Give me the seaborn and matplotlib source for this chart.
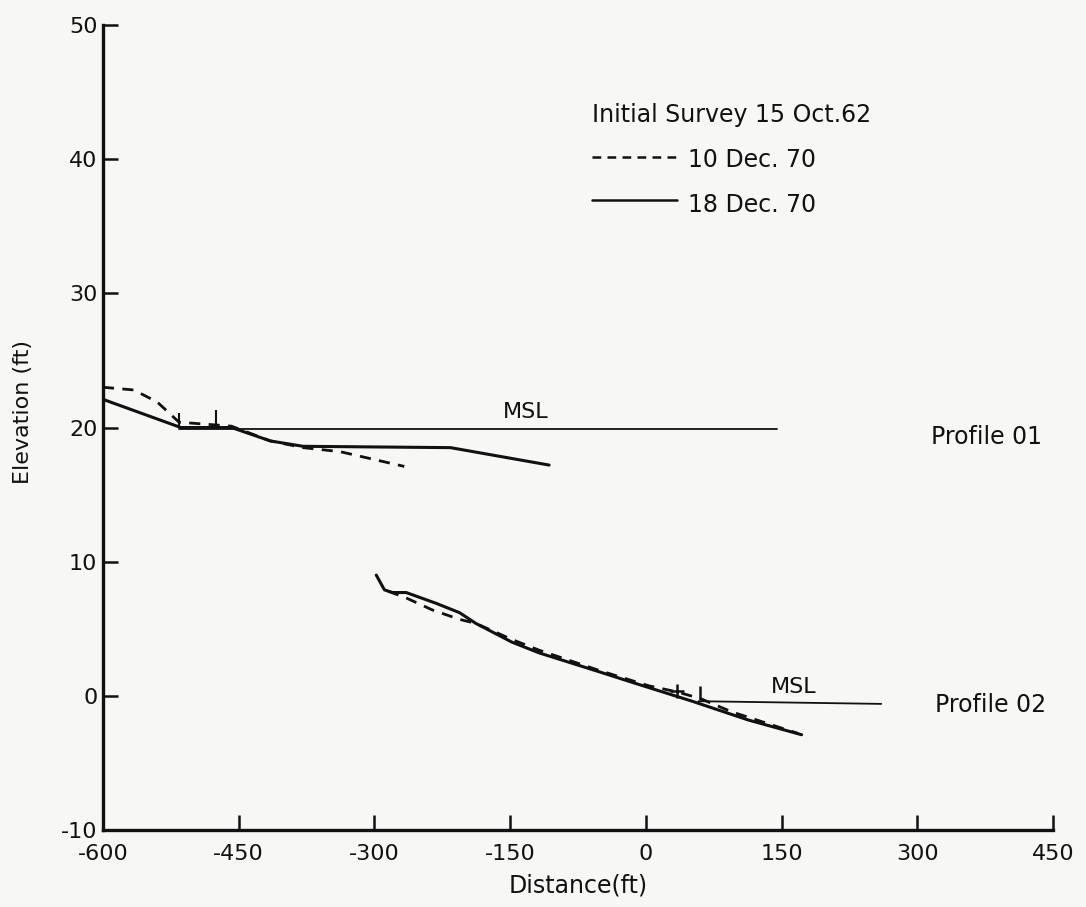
import matplotlib
matplotlib.use("Agg")
import matplotlib.pyplot as plt
import seaborn as sns
import pandas as pd

# ---------------- data ----------------
# Profile 01
p01_dec18_dist = [-600, -514, -458, -415, -379, -216, -107]
p01_dec18_elev = [22.1, 20.0, 20.0, 19.0, 18.6, 18.5, 17.2]
p01_dec10_dist = [-600, -566, -540, -516, -458, -415, -379, -338, -267]
p01_dec10_elev = [23.0, 22.8, 21.9, 20.4, 20.1, 19.0, 18.5, 18.2, 17.1]
p01_msl_dist = [-516, 145]
p01_msl_elev = [19.9, 19.9]
p01_mark_dist = [-516, -475]
p01_mark_low = [20.1, 20.1]
p01_mark_high = [21.1, 21.3]

# Profile 02
p02_dec18_dist = [-298, -289, -280, -265, -232, -206, -188, -148, -118, -52, -15, 51, 113, 172]
p02_dec18_elev = [9.0, 7.9, 7.7, 7.7, 6.9, 6.2, 5.4, 4.0, 3.2, 1.8, 1.0, -0.4, -1.8, -2.9]
p02_dec10_dist = [-285, -265, -236, -206, -188, -148, -118, -52, 3, 34, 60, 95, 168]
p02_dec10_elev = [7.8, 7.3, 6.4, 5.7, 5.4, 4.2, 3.4, 1.9, 0.75, 0.3, -0.2, -1.2, -2.8]
p02_msl_dist = [58, 260]
p02_msl_elev = [-0.4, -0.6]
p02_cross_dist = [34]
p02_cross_elev = [0.35]
p02_mark_dist = [60]
p02_mark_low = [-0.3]
p02_mark_high = [0.7]

x_ticks = [-600, -450, -300, -150, 0, 150, 300, 450]
y_ticks = [-10, 0, 10, 20, 30, 40, 50]

legend_title = "Initial Survey 15 Oct.62"
legend_labels = ["10 Dec. 70", "18 Dec. 70"]

# ---------------- plot ----------------
sns.set_style("ticks")
plt.rcParams["font.family"] = ["DejaVu Sans"]
plt.rcParams["axes.unicode_minus"] = False

bg = "#f7f7f6"
fig = plt.figure(figsize=(10.86, 9.07), dpi=100, facecolor=bg)
ax = fig.add_axes([0.0948, 0.0849, 0.875, 0.8875])
ax.set_facecolor(bg)

ink = "#111111"

def line(xs, ys, **kw):
    df = pd.DataFrame({"x": xs, "y": ys})
    sns.lineplot(data=df, x="x", y="y", sort=False, estimator=None, ax=ax,
                 color=ink, **kw)

# Profile 01
line(p01_dec18_dist, p01_dec18_elev, linewidth=2.2)
line(p01_dec10_dist, p01_dec10_elev, linewidth=2.0, linestyle=(0, (4, 3)))
line(p01_msl_dist, p01_msl_elev, linewidth=1.3)
ax.vlines(p01_mark_dist, p01_mark_low, p01_mark_high, color=ink, linewidth=1.5)

# Profile 02
line(p02_dec18_dist, p02_dec18_elev, linewidth=2.2)
line(p02_dec10_dist, p02_dec10_elev, linewidth=2.0, linestyle=(0, (4, 3)))
line(p02_msl_dist, p02_msl_elev, linewidth=1.3)
sns.scatterplot(x=p02_cross_dist, y=p02_cross_elev, marker="+", s=90,
                color=ink, linewidth=1.8, ax=ax)
ax.vlines(p02_mark_dist, p02_mark_low, p02_mark_high, color=ink, linewidth=1.8)

# annotations
ax.text(-133, 20.4, "MSL", fontsize=16, color=ink, ha="center", va="bottom")
ax.text(163, -0.1, "MSL", fontsize=16, color=ink, ha="center", va="bottom")
ax.text(315, 19.3, "Profile 01", fontsize=17, color=ink, ha="left", va="center")
ax.text(319, -0.7, "Profile 02", fontsize=17, color=ink, ha="left", va="center")

# legend (hand laid out like the original)
ax.text(0.515, 0.888, legend_title, transform=ax.transAxes, fontsize=17,
        color=ink, ha="left", va="center")
ax.plot([0.515, 0.604], [0.836, 0.836], transform=ax.transAxes, color=ink,
        linewidth=1.8, linestyle=(0, (3.5, 2.5)))
ax.text(0.616, 0.832, legend_labels[0], transform=ax.transAxes, fontsize=17,
        color=ink, ha="left", va="center")
ax.plot([0.515, 0.604], [0.783, 0.783], transform=ax.transAxes, color=ink,
        linewidth=1.8)
ax.text(0.616, 0.776, legend_labels[1], transform=ax.transAxes, fontsize=17,
        color=ink, ha="left", va="center")

# axes
ax.set_xlim(-600, 450)
ax.set_ylim(-10, 50)
ax.set_xticks(x_ticks)
ax.set_yticks(y_ticks)
ax.tick_params(direction="in", length=11, width=1.8, labelsize=16, colors=ink)
ax.tick_params(axis="x", pad=10)
ax.tick_params(axis="y", pad=4)
ax.set_xlabel("Distance(ft)", fontsize=17, color=ink, labelpad=7)
ax.set_ylabel("Elevation (ft)", fontsize=16, color=ink)
ax.yaxis.set_label_coords(-0.074, 0.519)
sns.despine(ax=ax)
for s in ("left", "bottom"):
    ax.spines[s].set_linewidth(2.4)
    ax.spines[s].set_color(ink)

fig.savefig("out.png", dpi=100, facecolor=bg)
